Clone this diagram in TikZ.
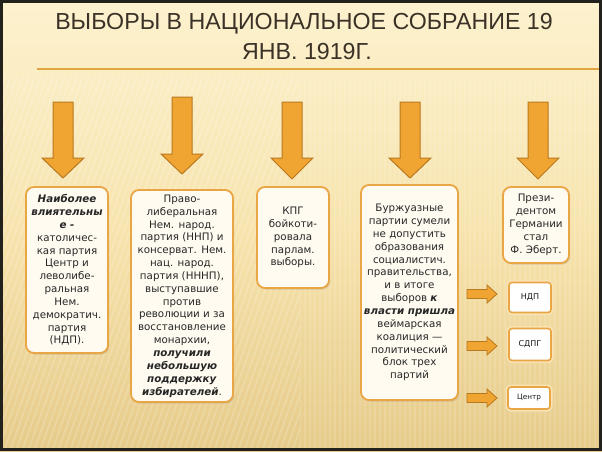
\documentclass[tikz,border=0pt]{standalone}
\usepackage{fontspec}
\setmainfont{DejaVu Sans}
\newfontfamily\titlefont{Liberation Sans}
\usetikzlibrary{shadows}
\definecolor{bgtop}{HTML}{FDF2CF}
\definecolor{bgmid}{HTML}{F7E4AE}
\definecolor{bgbot}{HTML}{E6CB8A}
\definecolor{arrfill}{HTML}{F0A431}
\definecolor{arrline}{HTML}{B9791F}
\definecolor{boxline}{HTML}{EAA545}
\definecolor{boxfill}{HTML}{FFFBF1}
\definecolor{titlecol}{HTML}{3A3127}
\definecolor{framecol}{HTML}{23211C}
\definecolor{rulecol}{HTML}{E2A440}
\newcommand\bigdownarr[4]{%
  \draw[blockarr] (#1-10,#2) -- (#1+10,#2) -- (#1+10,#3) -- (#1+21,#3) -- (#1,#4) -- (#1-21,#3) -- (#1-10,#3) -- cycle;}
\newcommand\smallrightarr[1]{%
  \draw[blockarr, line width=0.8pt] (467,#1-4.5) -- (487,#1-4.5) -- (487,#1-9) -- (497,#1) -- (487,#1+9) -- (487,#1+4.5) -- (467,#1+4.5) -- cycle;}
\begin{document}
\begin{tikzpicture}[x=1pt,y=-1pt,
  blockarr/.style={fill=arrfill, draw=arrline, line width=1pt, line join=miter},
  infobox/.style={draw=boxline, line width=1.8pt, fill=boxfill, rounded corners=8pt,
    align=center, inner sep=0pt, text=black!85,
    font=\fontsize{10.3}{12.85}\selectfont,
    drop shadow={shadow xshift=1.2pt, shadow yshift=-1.5pt, opacity=0.25}},
  partybox/.style={draw=boxline, line width=1.6pt, fill=white, rounded corners=3pt,
    align=center, inner sep=0pt, text=black!90, minimum width=42, font=\fontsize{8}{9}\selectfont,
    preaction={draw=bgtop!80!boxline, line width=5pt, rounded corners=3pt}},
  titlestyle/.style={font=\titlefont\fontsize{23.2}{30}\selectfont, text=titlecol, inner sep=0pt, anchor=base}
]
\useasboundingbox (0,0) rectangle (602,451);
% background
\shade[top color=bgtop, bottom color=bgbot, middle color=bgmid] (0,0) rectangle (602,451);
\begin{scope}
\clip (0,75) rectangle (300,451);
\foreach \i in {-200,-194,...,300}
  \draw[white, opacity=0.18, line width=1.6pt] (\i,451) -- (\i+160,0);
\end{scope}
\begin{scope}
\clip (300,75) rectangle (602,451);
\foreach \i in {300,305,...,602}
  \draw[white, opacity=0.12, line width=1.4pt] (\i,75) -- (\i,451);
\end{scope}
\draw[framecol, line width=3pt] (1.5,1.5) rectangle (600.5,449.5);
% title
\node[titlestyle] (t1) at (304,29) {ВЫБОРЫ В НАЦИОНАЛЬНОЕ СОБРАНИЕ 19};
\node[titlestyle] (t2) at (307,59) {ЯНВ. 1919Г.};
\draw[rulecol, line width=1.3pt] (37,69) -- (599,69);
% arrows
\bigdownarr{63}{102}{158}{178}
\bigdownarr{182}{97}{154}{174}
\bigdownarr{292}{102}{158}{179}
\bigdownarr{410}{102}{158}{178}
\bigdownarr{538}{102}{158}{179}
% boxes
\node[infobox, minimum width=82, minimum height=166] (b1) at (67,270)
 {\textbf{\textit{Наиболее}}\\\textbf{\textit{влиятельны}}\\\textbf{\textit{е -}}\\католичес-\\кая партия\\Центр и\\леволибе-\\ральная\\Нем.\\демократич.\\партия\\(НДП).};
\node[infobox, minimum width=102, minimum height=212] (b2) at (182,296)
 {Право-\\либеральная\\Нем. народ.\\партия (ННП) и\\консерват. Нем.\\нац. народ.\\партия (НННП),\\выступавшие\\против\\революции и за\\восстановление\\монархии,\\\textbf{\textit{получили}}\\\textbf{\textit{небольшую}}\\\textbf{\textit{поддержку}}\\\textbf{\textit{избирателей}}.};
\node[infobox, minimum width=72, minimum height=101] (b3) at (293,237.5)
 {КПГ\\бойкоти-\\ровала\\парлам.\\выборы.};
\node[infobox, minimum width=97, minimum height=215] (b4) at (409.5,292.5)
 {Буржуазные\\партии сумели\\не допустить\\образования\\социалистич.\\правительства,\\и в итоге\\выборов \textbf{\textit{к}}\\\textbf{\textit{власти пришла}}\\веймарская\\коалиция —\\политический\\блок трех\\партий};
\node[infobox, minimum width=66, minimum height=76] (b5) at (536,225)
 {Прези-\\дентом\\Германии\\стал\\Ф. Эберт.};
% party boxes
\node[partybox, minimum height=30] (p1) at (530,297.5) {НДП};
\node[partybox, minimum height=32] (p2) at (530,344.5) {СДПГ};
\node[partybox, minimum height=22, font=\fontsize{7.3}{8}\selectfont] (p3) at (529,398) {Центр};
\smallrightarr{294}
\smallrightarr{346}
\smallrightarr{398}
\end{tikzpicture}
\end{document}
